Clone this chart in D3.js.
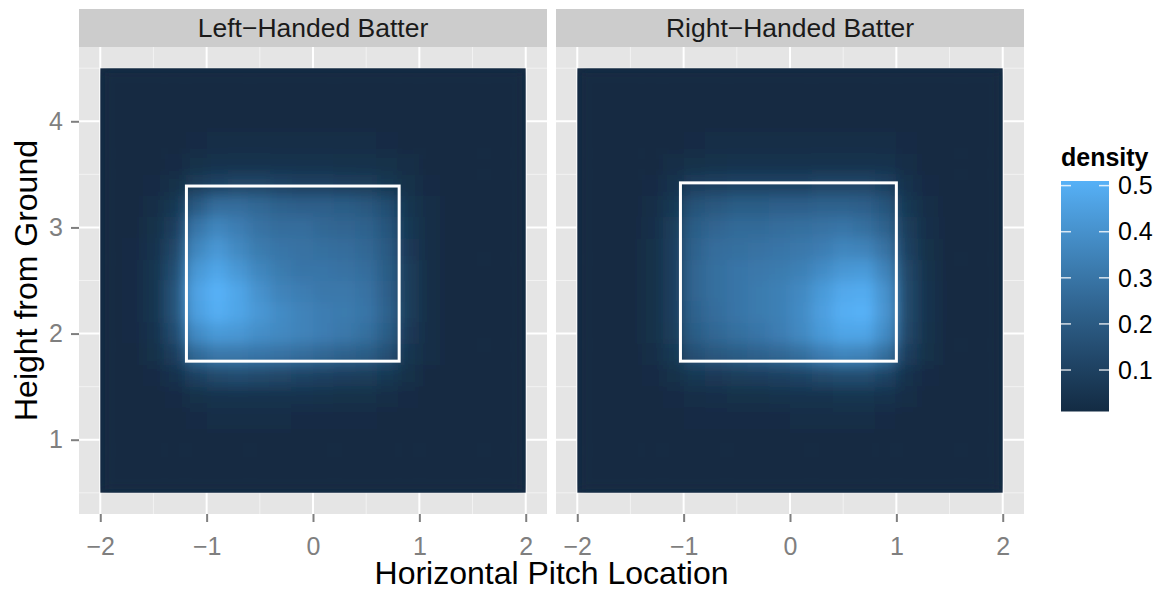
<!DOCTYPE html>
<html>
<head>
<meta charset="utf-8">
<script src="https://cdn.jsdelivr.net/npm/d3@7"></script>
<style>
  body { margin: 0; background: #fff; }
  text { font-family: "Liberation Sans", Arial, Helvetica, sans-serif; }
</style>
</head>
<body>
<div id="chart"></div>
<script>
// ---- data ----
var facetNames = ["Left\u2212Handed Batter", "Right\u2212Handed Batter"];
var xTicks = [-2, -1, 0, 1, 2];
var yTicks = [1, 2, 3, 4];
var legendTicks = [0.1, 0.2, 0.3, 0.4, 0.5];

// tile centres (0.2 wide cells)
var xCenters = [-1.9, -1.7, -1.5, -1.3, -1.1, -0.9, -0.7, -0.5, -0.3, -0.1, 0.1, 0.3, 0.5, 0.7, 0.9, 1.1, 1.3, 1.5, 1.7, 1.9];
var yCenters = [4.4, 4.2, 4.0, 3.8, 3.6, 3.4, 3.2, 3.0, 2.8, 2.6, 2.4, 2.2, 2.0, 1.8, 1.6, 1.4, 1.2, 1.0, 0.8, 0.6];

// strike zones [left, right, bottom, top]
var leftZone = [-1.19, 0.81, 1.74, 3.39];
var rightZone = [-1.03, 1.00, 1.74, 3.42];

// density, one row per yCenter (top to bottom)
var leftDensity = [
  [.01,.01,.01,.01,.01,.01,.01,.01,.01,.01,.01,.01,.01,.01,.01,.01,.01,.01,.01,.01],
  [.01,.01,.01,.01,.01,.01,.01,.01,.01,.01,.01,.01,.01,.01,.01,.01,.01,.01,.01,.01],
  [.01,.01,.01,.01,.01,.01,.01,.01,.01,.01,.01,.01,.01,.01,.01,.01,.01,.01,.01,.01],
  [.01,.01,.01,.01,.015,.02,.02,.02,.02,.02,.02,.02,.02,.015,.01,.01,.01,.01,.01,.01],
  [.01,.01,.01,.015,.03,.04,.045,.045,.04,.04,.04,.035,.035,.03,.02,.01,.01,.01,.01,.01],
  [.01,.01,.015,.03,.08,.11,.12,.12,.11,.10,.10,.09,.08,.06,.03,.015,.01,.01,.01,.01],
  [.01,.01,.02,.06,.20,.27,.27,.25,.23,.22,.22,.21,.19,.15,.05,.02,.01,.01,.01,.01],
  [.01,.01,.03,.09,.30,.36,.33,.29,.27,.27,.25,.24,.23,.18,.06,.02,.01,.01,.01,.01],
  [.01,.015,.04,.12,.36,.42,.37,.32,.30,.29,.28,.27,.25,.20,.07,.02,.01,.01,.01,.01],
  [.01,.015,.05,.15,.42,.47,.42,.36,.32,.30,.30,.29,.27,.21,.08,.02,.01,.01,.01,.01],
  [.01,.015,.05,.17,.46,.51,.47,.40,.35,.33,.31,.31,.29,.22,.08,.02,.01,.01,.01,.01],
  [.01,.015,.05,.17,.45,.50,.47,.42,.38,.35,.33,.32,.30,.23,.08,.02,.01,.01,.01,.01],
  [.01,.015,.04,.14,.38,.43,.42,.39,.37,.35,.33,.31,.28,.21,.07,.02,.01,.01,.01,.01],
  [.01,.01,.03,.09,.26,.31,.31,.30,.29,.27,.25,.23,.21,.16,.05,.02,.01,.01,.01,.01],
  [.01,.01,.015,.04,.10,.13,.14,.13,.12,.11,.10,.09,.08,.06,.03,.01,.01,.01,.01,.01],
  [.01,.01,.01,.015,.03,.04,.045,.045,.04,.04,.035,.03,.03,.02,.015,.01,.01,.01,.01,.01],
  [.01,.01,.01,.01,.015,.02,.02,.02,.02,.015,.015,.015,.015,.01,.01,.01,.01,.01,.01,.01],
  [.01,.01,.01,.01,.01,.01,.01,.01,.01,.01,.01,.01,.01,.01,.01,.01,.01,.01,.01,.01],
  [.01,.01,.01,.01,.01,.01,.01,.01,.01,.01,.01,.01,.01,.01,.01,.01,.01,.01,.01,.01],
  [.01,.01,.01,.01,.01,.01,.01,.01,.01,.01,.01,.01,.01,.01,.01,.01,.01,.01,.01,.01]
];

var rightDensity = [
  [.01,.01,.01,.01,.01,.01,.01,.01,.01,.01,.01,.01,.01,.01,.01,.01,.01,.01,.01,.01],
  [.01,.01,.01,.01,.01,.01,.01,.01,.01,.01,.01,.01,.01,.01,.01,.01,.01,.01,.01,.01],
  [.01,.01,.01,.01,.01,.01,.01,.01,.01,.01,.01,.01,.01,.01,.01,.01,.01,.01,.01,.01],
  [.01,.01,.01,.01,.01,.015,.02,.02,.02,.02,.02,.02,.02,.02,.02,.015,.01,.01,.01,.01],
  [.01,.01,.01,.01,.02,.03,.035,.04,.04,.04,.04,.045,.045,.045,.04,.02,.01,.01,.01,.01],
  [.01,.01,.01,.015,.04,.09,.10,.11,.11,.11,.11,.12,.12,.12,.10,.04,.015,.01,.01,.01],
  [.01,.01,.01,.02,.06,.17,.19,.21,.21,.22,.22,.23,.23,.22,.18,.06,.02,.01,.01,.01],
  [.01,.01,.01,.025,.08,.21,.24,.26,.26,.27,.28,.29,.30,.28,.23,.08,.025,.01,.01,.01],
  [.01,.01,.01,.03,.09,.23,.27,.28,.29,.30,.31,.33,.36,.35,.29,.10,.03,.01,.01,.01],
  [.01,.01,.01,.03,.09,.24,.28,.30,.31,.32,.34,.38,.42,.43,.35,.12,.035,.01,.01,.01],
  [.01,.01,.01,.03,.09,.24,.28,.30,.32,.34,.37,.43,.48,.49,.40,.13,.04,.01,.01,.01],
  [.01,.01,.01,.03,.09,.23,.27,.30,.32,.34,.38,.45,.50,.51,.41,.13,.04,.01,.01,.01],
  [.01,.01,.01,.03,.08,.21,.25,.28,.30,.33,.37,.43,.47,.47,.38,.12,.035,.01,.01,.01],
  [.01,.01,.01,.02,.06,.16,.19,.21,.23,.25,.28,.33,.36,.35,.28,.09,.03,.01,.01,.01],
  [.01,.01,.01,.015,.03,.06,.07,.08,.09,.10,.11,.13,.14,.14,.11,.04,.015,.01,.01,.01],
  [.01,.01,.01,.01,.015,.02,.025,.03,.03,.035,.04,.045,.05,.05,.04,.02,.01,.01,.01,.01],
  [.01,.01,.01,.01,.01,.015,.015,.015,.015,.015,.02,.02,.02,.02,.015,.01,.01,.01,.01,.01],
  [.01,.01,.01,.01,.01,.01,.01,.01,.01,.01,.01,.01,.01,.01,.01,.01,.01,.01,.01,.01],
  [.01,.01,.01,.01,.01,.01,.01,.01,.01,.01,.01,.01,.01,.01,.01,.01,.01,.01,.01,.01],
  [.01,.01,.01,.01,.01,.01,.01,.01,.01,.01,.01,.01,.01,.01,.01,.01,.01,.01,.01,.01]
];

// ---- layout ----
var width = 1160, height = 590;
var panelTop = 47, panelBottom = 514, stripTop = 9;
var panels = [
  {name: facetNames[0], x0: 79, x1: 547, density: leftDensity, zone: leftZone},
  {name: facetNames[1], x0: 556, x1: 1024, density: rightDensity, zone: rightZone}
];
var half = 0.1;
var fontFam = "'Liberation Sans', Arial, sans-serif";

var svg = d3.select("#chart").append("svg").attr("width", width).attr("height", height);
var defs = svg.append("defs");
defs.append("filter").attr("id", "soft")
    .attr("x", "-0.1").attr("y", "-0.1").attr("width", "1.2").attr("height", "1.2")
  .append("feGaussianBlur").attr("stdDeviation", 6.5);

var allValues = d3.merge(leftDensity.concat(rightDensity));
var dmin = d3.min(allValues), dmax = d3.max(allValues);
var color = d3.scaleLinear().domain([dmin, dmax])
    .range(["#132B43", "#56B1F7"]).interpolate(d3.interpolateLab);

var y = d3.scaleLinear().domain([0.3, 4.7]).range([panelBottom, panelTop]);

panels.forEach(function(p, pi) {
  var x = d3.scaleLinear().domain([-2.2, 2.2]).range([p.x0, p.x1]);
  var g = svg.append("g");

  g.append("rect").attr("x", p.x0).attr("y", panelTop)
    .attr("width", p.x1 - p.x0).attr("height", panelBottom - panelTop).attr("fill", "#E5E5E5");

  // grid
  g.selectAll(".minx").data([-1.5, -0.5, 0.5, 1.5]).enter().append("line")
    .attr("x1", function(d) { return x(d); }).attr("x2", function(d) { return x(d); })
    .attr("y1", panelTop).attr("y2", panelBottom).attr("stroke", "#F2F2F2").attr("stroke-width", 1);
  g.selectAll(".miny").data([0.5, 1.5, 2.5, 3.5, 4.5]).enter().append("line")
    .attr("y1", function(d) { return y(d); }).attr("y2", function(d) { return y(d); })
    .attr("x1", p.x0).attr("x2", p.x1).attr("stroke", "#F2F2F2").attr("stroke-width", 1);
  g.selectAll(".majx").data(xTicks).enter().append("line")
    .attr("x1", function(d) { return x(d); }).attr("x2", function(d) { return x(d); })
    .attr("y1", panelTop).attr("y2", panelBottom).attr("stroke", "#fff").attr("stroke-width", 2);
  g.selectAll(".majy").data(yTicks).enter().append("line")
    .attr("y1", function(d) { return y(d); }).attr("y2", function(d) { return y(d); })
    .attr("x1", p.x0).attr("x2", p.x1).attr("stroke", "#fff").attr("stroke-width", 2);

  // density tiles
  var ext = {x0: x(xCenters[0] - half), x1: x(xCenters[xCenters.length - 1] + half),
             y0: y(yCenters[0] + half), y1: y(yCenters[yCenters.length - 1] - half)};
  defs.append("clipPath").attr("id", "clip" + pi).append("rect")
    .attr("x", ext.x0).attr("y", ext.y0).attr("width", ext.x1 - ext.x0).attr("height", ext.y1 - ext.y0);
  var tg = g.append("g").attr("clip-path", "url(#clip" + pi + ")");
  tg.append("rect").attr("x", ext.x0).attr("y", ext.y0)
    .attr("width", ext.x1 - ext.x0).attr("height", ext.y1 - ext.y0).attr("fill", color(dmin));

  var cells = [];
  p.density.forEach(function(row, ri) {
    row.forEach(function(v, ci) { cells.push({x: xCenters[ci], y: yCenters[ri], v: v}); });
  });
  tg.append("g").attr("filter", "url(#soft)").selectAll("rect").data(cells).enter().append("rect")
    .attr("x", function(d) { return x(d.x - half); })
    .attr("y", function(d) { return y(d.y + half); })
    .attr("width", function(d) { return x(d.x + half) - x(d.x - half) + 0.5; })
    .attr("height", function(d) { return y(d.y - half) - y(d.y + half) + 0.5; })
    .attr("fill", function(d) { return color(d.v); });

  // strike zone
  g.append("rect")
    .attr("x", x(p.zone[0])).attr("y", y(p.zone[3]))
    .attr("width", x(p.zone[1]) - x(p.zone[0])).attr("height", y(p.zone[2]) - y(p.zone[3]))
    .attr("fill", "none").attr("stroke", "#fff").attr("stroke-width", 3);

  // strip
  g.append("rect").attr("x", p.x0).attr("y", stripTop)
    .attr("width", p.x1 - p.x0).attr("height", panelTop - stripTop).attr("fill", "#CCCCCC");
  g.append("text").attr("x", (p.x0 + p.x1) / 2).attr("y", (stripTop + panelTop) / 2)
    .attr("dy", "0.35em").attr("text-anchor", "middle")
    .attr("font-size", 26.5).attr("fill", "#1A1A1A").text(p.name);

  // x axis
  var xa = svg.append("g").attr("transform", "translate(0," + panelBottom + ")")
    .call(d3.axisBottom(x).tickValues(xTicks).tickSize(8).tickPadding(15).tickFormat(d3.format("d")));
  xa.select(".domain").remove();
  xa.selectAll("line").attr("stroke", "#7F7F7F").attr("stroke-width", 2);
  xa.selectAll("text").attr("fill", "#7F7F7F").attr("font-size", 25).attr("font-family", fontFam);

  if (pi === 0) {
    var ya = svg.append("g").attr("transform", "translate(" + p.x0 + ",0)")
      .call(d3.axisLeft(y).tickValues(yTicks).tickSize(8).tickPadding(8).tickFormat(d3.format("d")));
    ya.select(".domain").remove();
    ya.selectAll("line").attr("stroke", "#7F7F7F").attr("stroke-width", 2);
    ya.selectAll("text").attr("fill", "#7F7F7F").attr("font-size", 25).attr("font-family", fontFam);
  }
});

// axis titles
svg.append("text").attr("x", (panels[0].x0 + panels[1].x1) / 2).attr("y", 584)
  .attr("text-anchor", "middle").attr("font-size", 32).attr("fill", "#000")
  .text("Horizontal Pitch Location");
svg.append("text").attr("transform", "translate(37," + (panelTop + panelBottom) / 2 + ") rotate(-90)")
  .attr("text-anchor", "middle").attr("font-size", 32).attr("fill", "#000")
  .text("Height from Ground");

// legend
var lx = 1061, lw = 48, ly0 = 181, ly1 = 411.5;
var ly = d3.scaleLinear().domain([dmin, dmax]).range([ly1, ly0]);
var grad = defs.append("linearGradient").attr("id", "legendGrad")
  .attr("x1", 0).attr("y1", 1).attr("x2", 0).attr("y2", 0);
d3.range(0, 1.0001, 0.1).forEach(function(t) {
  grad.append("stop").attr("offset", t).attr("stop-color", color(dmin + t * (dmax - dmin)));
});
svg.append("text").attr("x", lx).attr("y", 166).attr("font-size", 25)
  .attr("font-weight", "bold").attr("fill", "#000").text("density");
svg.append("rect").attr("x", lx).attr("y", ly0).attr("width", lw).attr("height", ly1 - ly0)
  .attr("fill", "url(#legendGrad)");
var lt = svg.selectAll(".ltick").data(legendTicks).enter().append("g");
lt.append("line").attr("x1", lx).attr("x2", lx + 10)
  .attr("y1", function(d) { return ly(d); }).attr("y2", function(d) { return ly(d); })
  .attr("stroke", "#fff").attr("stroke-opacity", 0.8).attr("stroke-width", 1.5);
lt.append("line").attr("x1", lx + lw - 10).attr("x2", lx + lw)
  .attr("y1", function(d) { return ly(d); }).attr("y2", function(d) { return ly(d); })
  .attr("stroke", "#fff").attr("stroke-opacity", 0.8).attr("stroke-width", 1.5);
lt.append("text").attr("x", 1118).attr("y", function(d) { return ly(d); }).attr("dy", "0.35em")
  .attr("font-size", 25).attr("fill", "#000").text(function(d) { return d3.format(".1f")(d); });
</script>
</body>
</html>
